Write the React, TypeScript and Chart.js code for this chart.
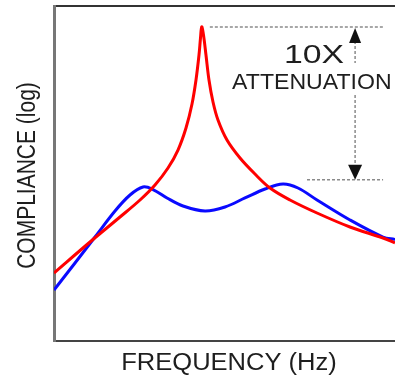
import React, { useEffect, useRef } from "react";
import { Chart, registerables } from "chart.js";

Chart.register(...registerables);

// Frequency (relative units 0..100) and compliance (relative log units 0..100)
const redFreq = [0, 10.56, 19.35, 25.22, 29.62, 33.43, 36.36, 38.71, 40.47, 41.64, 42.52, 42.96, 43.31, 43.84, 44.57, 45.45, 46.63, 48.09, 50.73, 54.55, 58.94, 63.34, 69.21, 77.13, 86.8, 96.48, 100];
const redCompliance = [20.3, 29.55, 37.01, 42.09, 46.57, 51.64, 57.01, 63.58, 70.75, 77.91, 85.37, 90.45, 93.82, 91.34, 85.37, 77.91, 71.34, 65.97, 60.0, 54.63, 49.85, 45.67, 42.09, 38.21, 34.03, 30.75, 29.3];

const blueFreq = [0, 6.16, 12.02, 17.89, 22.29, 26.1, 29.03, 33.14, 37.83, 44.28, 50.15, 56.01, 61.88, 67.16, 71.55, 77.13, 86.8, 96.48, 100];
const blueCompliance = [15.22, 23.28, 31.04, 38.81, 43.58, 45.97, 45.22, 42.69, 40.3, 38.81, 40.0, 42.69, 45.37, 46.87, 45.67, 42.09, 36.12, 31.04, 30.3];

const xTitle = "FREQUENCY (Hz)";
const yTitle = "COMPLIANCE (log)";
const ratioLabel = "10X";
const attenuationLabel = "ATTENUATION";

// attenuation reference levels (compliance units) and their frequency spans
const attenLevels = [93.7, 48.1];
const attenStart = [45.7, 74.2];
const attenEnd = [96.5, 96.5];
const arrowFreq = 88.3;

const FONT = '"Liberation Sans", Arial, Helvetica, sans-serif';

function drawScaledText(
  ctx: CanvasRenderingContext2D,
  text: string,
  x: number,
  y: number,
  size: number,
  sx: number,
  align: CanvasTextAlign,
  rotate = false
) {
  ctx.save();
  ctx.translate(x, y);
  if (rotate) ctx.rotate(-Math.PI / 2);
  ctx.scale(sx, 1);
  ctx.font = `${size}px ${FONT}`;
  ctx.textAlign = align;
  ctx.textBaseline = "alphabetic";
  ctx.fillStyle = "#1e1e1e";
  ctx.fillText(text, 0, 0);
  ctx.restore();
}

const overlayPlugin = {
  id: "overlay",
  afterDatasetsDraw(chart: any) {
    const { ctx } = chart;
    const xs = chart.scales.x;
    const ys = chart.scales.y;
    ctx.save();
    // dotted reference lines
    ctx.strokeStyle = "#8a8a8a";
    ctx.lineWidth = 1.5;
    ctx.setLineDash([3, 2]);
    attenLevels.forEach((lv, i) => {
      const py = ys.getPixelForValue(lv);
      ctx.beginPath();
      ctx.moveTo(xs.getPixelForValue(attenStart[i]), py);
      ctx.lineTo(xs.getPixelForValue(attenEnd[i]), py);
      ctx.stroke();
    });
    const ax = xs.getPixelForValue(arrowFreq);
    const top = ys.getPixelForValue(attenLevels[0]);
    const bot = ys.getPixelForValue(attenLevels[1]);
    ctx.beginPath();
    ctx.moveTo(ax, top + 14);
    ctx.lineTo(ax, top + 36);
    ctx.moveTo(ax, top + 68);
    ctx.lineTo(ax, bot - 12);
    ctx.stroke();
    ctx.setLineDash([]);
    ctx.fillStyle = "#111";
    ctx.beginPath();
    ctx.moveTo(ax, top + 1);
    ctx.lineTo(ax - 6, top + 16);
    ctx.lineTo(ax + 6, top + 16);
    ctx.closePath();
    ctx.fill();
    ctx.beginPath();
    ctx.moveTo(ax, bot);
    ctx.lineTo(ax - 7, bot - 15);
    ctx.lineTo(ax + 7, bot - 15);
    ctx.closePath();
    ctx.fill();
    // annotation texts
    drawScaledText(ctx, ratioLabel, ax - 41, top + 36, 25, 1.35, "center");
    drawScaledText(ctx, attenuationLabel, ax - 123, top + 62, 22, 1.05, "left");
    // axis titles
    const ca = chart.chartArea;
    drawScaledText(ctx, xTitle, ca.left + 175, ca.bottom + 29, 23, 1.11, "center");
    drawScaledText(ctx, yTitle, ca.left - 19, (ca.top + ca.bottom) / 2 + 2, 25, 0.84, "center", true);
    ctx.restore();
  },
};

export default function App() {
  const ref = useRef<HTMLCanvasElement | null>(null);

  useEffect(() => {
    if (!ref.current) return;
    const chart = new Chart(ref.current, {
      type: "line",
      data: {
        datasets: [
          {
            label: "Undamped",
            data: redFreq.map((f, i) => ({ x: f, y: redCompliance[i] })),
            borderColor: "rgb(255,0,0)",
            borderWidth: 3,
            pointRadius: 0,
            tension: 0.35,
            order: 0,
          },
          {
            label: "Damped",
            data: blueFreq.map((f, i) => ({ x: f, y: blueCompliance[i] })),
            borderColor: "rgb(10,10,255)",
            borderWidth: 3,
            pointRadius: 0,
            tension: 0.35,
            order: 1,
          },
        ],
      },
      options: {
        animation: false,
        responsive: false,
        layout: { padding: { left: 54, top: 6, right: 0, bottom: 34 } },
        plugins: { legend: { display: false }, tooltip: { enabled: false } },
        scales: {
          x: {
            type: "linear",
            min: 0,
            max: 100,
            ticks: { display: false },
            grid: { display: false, drawTicks: false },
            border: { display: true, color: "#444", width: 2 },
          },
          x2: {
            type: "linear",
            position: "top",
            min: 0,
            max: 100,
            ticks: { display: false },
            grid: { display: false, drawTicks: false },
            border: { display: true, color: "#333", width: 2 },
          },
          y: {
            type: "linear",
            min: 0,
            max: 100,
            ticks: { display: false },
            grid: { display: false, drawTicks: false },
            border: { display: true, color: "#777", width: 3 },
          },
        },
      },
      plugins: [overlayPlugin],
    });
    return () => chart.destroy();
  }, []);

  return (
    <canvas
      ref={ref}
      width={395}
      height={375}
      style={{ position: "absolute", left: 0, top: 0, background: "#fff" }}
    />
  );
}
